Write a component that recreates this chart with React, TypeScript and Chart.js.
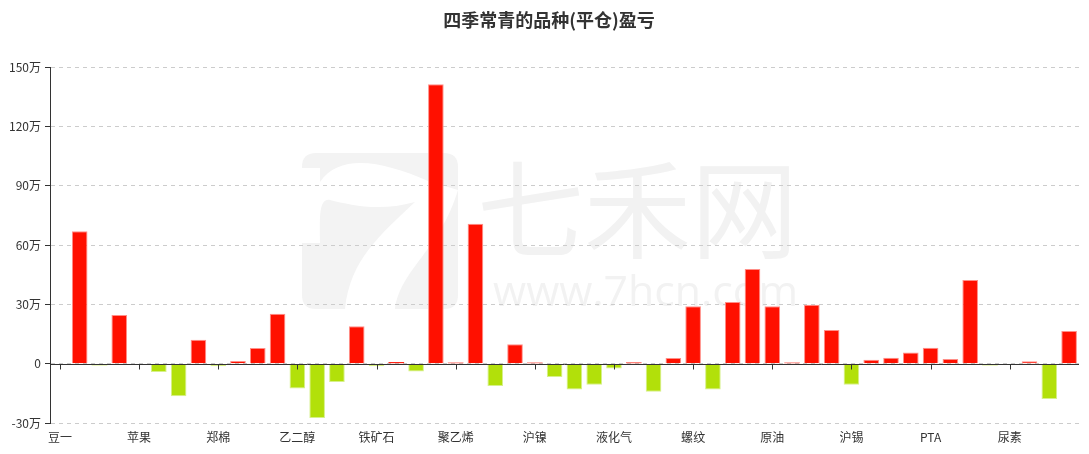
import React, { useEffect, useRef } from 'react';
import { Chart, registerables } from 'chart.js';

Chart.register(...registerables);

const titleText = '四季常青的品种(平仓)盈亏';

// 52 categories; only every 4th name is legible in the reference
const categories: string[] = [
  '豆一', '', '', '',
  '苹果', '', '', '',
  '郑棉', '', '', '',
  '乙二醇', '', '', '',
  '铁矿石', '', '', '',
  '聚乙烯', '', '', '',
  '沪镍', '', '', '',
  '液化气', '', '', '',
  '螺纹', '', '', '',
  '原油', '', '', '',
  '沪锡', '', '', '',
  'PTA', '', '', '',
  '尿素', '', '', '',
];

// profit / loss in 万
const profitLoss: number[] = [
  -0.3, 67.0, -0.8, 24.6,
  -0.2, -4.2, -16.5, 12.1,
  -1.3, 1.4, 7.9, 25.3,
  -12.5, -27.5, -9.3, 18.9,
  -1.3, 0.8, -3.9, 141.3,
  0.1, 70.8, -11.3, 9.8,
  0.3, -6.7, -13.0, -10.6,
  -2.4, 0.6, -14.2, 2.9,
  29.0, -13.0, 31.2, 47.9,
  29.0, 0.3, 29.8, 17.0,
  -10.6, 2.0, 3.0, 5.7,
  8.1, 2.4, 42.3, -0.8,
  -0.5, 1.2, -17.9, 16.5,
];

const yMin = -30;
const yMax = 150;
const yStep = 30;

const RED = '#ff1000';
const RED_BORDER = '#ff8f88';
const GREEN = '#b2e00a';
const GREEN_BORDER = '#d6f08a';

const FONT = '"Noto Sans CJK SC", "Noto Sans", sans-serif';

const decorPlugin = {
  id: 'decor',
  beforeDraw(chart: any) {
    const ctx = chart.ctx as CanvasRenderingContext2D;
    ctx.save();
    ctx.fillStyle = '#ffffff';
    ctx.fillRect(0, 0, chart.width, chart.height);
    // watermark logo
    const gx = 302, gy = 153, gw = 156, gh = 156, r = 14;
    ctx.fillStyle = '#f3f3f3';
    ctx.beginPath();
    ctx.moveTo(gx + r, gy);
    ctx.lineTo(gx + gw - r, gy);
    ctx.quadraticCurveTo(gx + gw, gy, gx + gw, gy + r);
    ctx.lineTo(gx + gw, gy + gh - r);
    ctx.quadraticCurveTo(gx + gw, gy + gh, gx + gw - r, gy + gh);
    ctx.lineTo(gx + r, gy + gh);
    ctx.quadraticCurveTo(gx, gy + gh, gx, gy + gh - r);
    ctx.lineTo(gx, gy + r);
    ctx.quadraticCurveTo(gx, gy, gx + r, gy);
    ctx.closePath();
    ctx.fill();
    // white "7" swoosh
    ctx.fillStyle = '#ffffff';
    ctx.beginPath();
    ctx.moveTo(302, 168);
    ctx.lineTo(320, 168);
    ctx.lineTo(320, 182);
    ctx.bezierCurveTo(340, 152, 385, 162, 428, 181);
    ctx.lineTo(458, 190);
    ctx.bezierCurveTo(440, 250, 400, 270, 395, 309);
    ctx.lineTo(345, 309);
    ctx.bezierCurveTo(350, 260, 380, 235, 415, 202);
    ctx.bezierCurveTo(380, 212, 350, 205, 330, 200);
    ctx.bezierCurveTo(318, 198, 320, 220, 320, 243);
    ctx.lineTo(302, 243);
    ctx.closePath();
    ctx.fill();
    // watermark text
    ctx.fillStyle = '#f2f2f2';
    ctx.textAlign = 'left';
    ctx.textBaseline = 'alphabetic';
    let f = 100;
    ctx.font = `${f}px ${FONT}`;
    let w = ctx.measureText('七禾网').width;
    f = (f * 321) / w;
    ctx.font = `${f}px ${FONT}`;
    ctx.fillText('七禾网', 477, 250);
    f = 44;
    ctx.font = `${f}px "Open Sans", sans-serif`;
    w = ctx.measureText('www.7hcn.com').width;
    f = (f * 305) / w;
    ctx.font = `${f}px "Open Sans", sans-serif`;
    ctx.fillText('www.7hcn.com', 493, 306);
    ctx.restore();
  },
  afterDatasetsDraw(chart: any) {
    const ctx = chart.ctx as CanvasRenderingContext2D;
    const x = chart.scales.x;
    const y = chart.scales.y;
    const y0 = Math.round(y.getPixelForValue(0)) + 0.5;
    ctx.save();
    ctx.strokeStyle = '#333333';
    ctx.lineWidth = 1;
    ctx.beginPath();
    ctx.moveTo(chart.chartArea.left, y0);
    ctx.lineTo(chart.chartArea.right, y0);
    for (let i = 0; i < categories.length; i += 4) {
      const px = Math.round(x.getPixelForValue(i)) + 0.5;
      ctx.moveTo(px, y0);
      ctx.lineTo(px, y0 + 5);
    }
    ctx.stroke();
    ctx.restore();
  },
  afterDraw(chart: any) {
    const ctx = chart.ctx as CanvasRenderingContext2D;
    ctx.save();
    ctx.fillStyle = '#333333';
    ctx.font = `bold 18px ${FONT}`;
    ctx.textAlign = 'center';
    ctx.textBaseline = 'middle';
    ctx.fillText(titleText, 549, 20);
    ctx.restore();
  },
};

export default function App() {
  const ref = useRef<HTMLCanvasElement | null>(null);

  useEffect(() => {
    if (!ref.current) return;
    const chart = new Chart(ref.current, {
      type: 'bar',
      data: {
        labels: categories,
        datasets: [
          {
            data: profitLoss,
            backgroundColor: profitLoss.map((v) => (v >= 0 ? RED : GREEN)),
            borderColor: profitLoss.map((v) => (v >= 0 ? RED_BORDER : GREEN_BORDER)),
            borderWidth: profitLoss.map((v) => (Math.abs(v) < 1.2 ? 0 : 1)),
            minBarLength: 1,
            categoryPercentage: 1,
            barPercentage: 0.79,
          },
        ],
      },
      options: {
        animation: false,
        responsive: false,
        layout: { padding: { top: 67, right: 10, left: 0, bottom: 0 } },
        plugins: {
          legend: { display: false },
          title: { display: false },
          tooltip: { enabled: false },
        },
        scales: {
          x: {
            afterFit: (s: any) => {
              s.height = 31;
            },
            grid: { display: false, drawTicks: false },
            border: { display: false },
            ticks: {
              autoSkip: false,
              maxRotation: 0,
              padding: 7,
              color: '#333333',
              font: { size: 12, family: FONT },
              callback: (_v: any, i: number) => (i % 4 === 0 ? categories[i] : ''),
            },
          },
          y: {
            min: yMin,
            max: yMax,
            afterFit: (s: any) => {
              s.width = 50;
            },
            grid: {
              color: '#cccccc',
              lineWidth: 1,
              drawTicks: true,
              tickLength: 5,
              tickColor: '#333333',
              tickBorderDash: [],
            },
            border: { display: true, color: '#333333', width: 1, dash: [4, 4] },
            ticks: {
              stepSize: yStep,
              padding: 4,
              color: '#333333',
              font: { size: 12, family: FONT },
              callback: (v: any) => (Number(v) === 0 ? '0' : `${v}万`),
            },
          },
        },
      },
      plugins: [decorPlugin],
    });
    return () => chart.destroy();
  }, []);

  return (
    <canvas
      ref={ref}
      width={1089}
      height={454}
      style={{ position: 'absolute', left: 0, top: 0, width: 1089, height: 454, display: 'block' }}
    />
  );
}
